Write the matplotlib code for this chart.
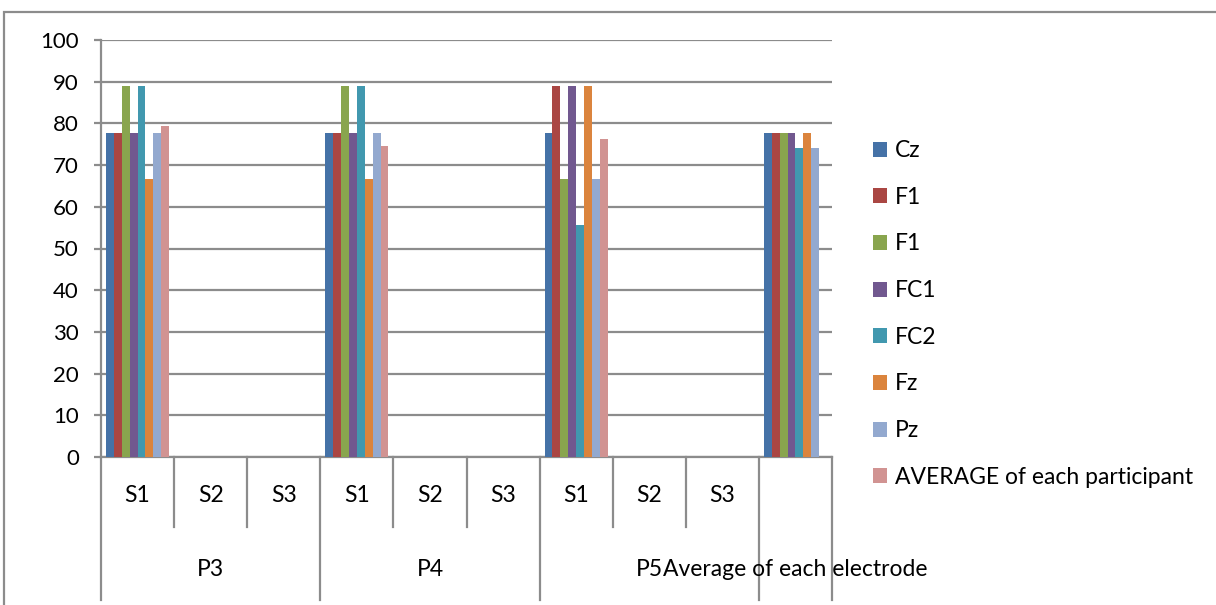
import matplotlib.pyplot as plt
from matplotlib.patches import Rectangle
from matplotlib.transforms import blended_transform_factory
import numpy as np

plt.rcParams["font.family"] = ["Lato", "DejaVu Sans"]

# session / participant categories (two-level axis)
sessions = ["S1", "S2", "S3", "S1", "S2", "S3", "S1", "S2", "S3", ""]
participants = ["P3", "P4", "P5", "Average of each electrode"]
participant_spans = [(0, 3), (3, 6), (6, 9), (9, 10)]

series_names = ["Cz", "F1", "F1", "FC1", "FC2", "Fz", "Pz",
                "AVERAGE of each participant"]
colors = ["#4572A7", "#AA4643", "#89A54E", "#71588F",
          "#4198AF", "#DB843D", "#93A9CF", "#D19392"]

nan = np.nan
cz = [77.8, nan, nan, 77.8, nan, nan, 77.8, nan, nan, 77.8]
f1_a = [77.8, nan, nan, 77.8, nan, nan, 88.9, nan, nan, 77.8]
f1_b = [88.9, nan, nan, 88.9, nan, nan, 66.7, nan, nan, 77.8]
fc1 = [77.8, nan, nan, 77.8, nan, nan, 88.9, nan, nan, 77.8]
fc2 = [88.9, nan, nan, 88.9, nan, nan, 55.6, nan, nan, 74.1]
fz = [66.7, nan, nan, 66.7, nan, nan, 88.9, nan, nan, 77.8]
pz = [77.8, nan, nan, 77.8, nan, nan, 66.7, nan, nan, 74.1]
avg_participant = [79.4, nan, nan, 74.6, nan, nan, 76.3, nan, nan, nan]

series = [cz, f1_a, f1_b, fc1, fc2, fz, pz, avg_participant]

grey = "#8C8C8C"
fs = 16
fs_text = 16.5

fig = plt.figure(figsize=(12.16, 6.05), dpi=100)
ax = fig.add_axes([101 / 1216, 1 - 457 / 605, 731 / 1216, 417 / 605])

n = len(series)
width = 0.108
x = np.arange(len(sessions)) + 0.5
for j, (vals, name, col) in enumerate(zip(series, series_names, colors)):
    ax.bar(x + (j - (n - 1) / 2) * width, vals, width=width, color=col,
           label=name, edgecolor="none", zorder=3)

ax.set_xlim(0, len(sessions))
ax.set_ylim(0, 100)
ax.set_yticks(range(0, 101, 10))
ax.yaxis.grid(True, color=grey, linewidth=1.6, zorder=0)
ax.tick_params(axis="y", length=5, width=1.6, color=grey, labelsize=fs,
               pad=11)
ax.set_xticks([])
for side in ["top", "right"]:
    ax.spines[side].set_visible(False)
for side in ["left", "bottom"]:
    ax.spines[side].set_color(grey)
    ax.spines[side].set_linewidth(1.6)

# two-level category axis below the plot
trans = blended_transform_factory(ax.transData, ax.transAxes)
short_end = -70 / 417
long_end = -143 / 417
group_edges = {s for s, _ in participant_spans} | {participant_spans[-1][1]}
for i in range(len(sessions) + 1):
    end = long_end if i in group_edges else short_end
    ax.plot([i, i], [0, end], color=grey, linewidth=1.6, transform=trans,
            clip_on=False)
for xi, label in zip(x, sessions):
    ax.text(xi, -38 / 417, label, transform=trans, ha="center", va="center",
            fontsize=fs_text)
for (s, e), label in zip(participant_spans, participants):
    ax.text((s + e) / 2, -113 / 417, label, transform=trans, ha="center",
            va="center", fontsize=fs_text)

handles, labels = ax.get_legend_handles_labels()
fig.legend(handles, labels, loc="center left",
           bbox_to_anchor=(873 / 1216, 1 - 314 / 605), frameon=False,
           fontsize=fs_text, handlelength=0.62, handleheight=0.62,
           handletextpad=0.35, labelspacing=1.12, borderpad=0,
           borderaxespad=0)

# chart area border
fig.patches.append(Rectangle((4 / 1216, -0.1), 1.2, 1.1 - 12 / 605,
                             transform=fig.transFigure, fill=False,
                             edgecolor=grey, linewidth=1.6))

fig.savefig("out.png", dpi=100)
